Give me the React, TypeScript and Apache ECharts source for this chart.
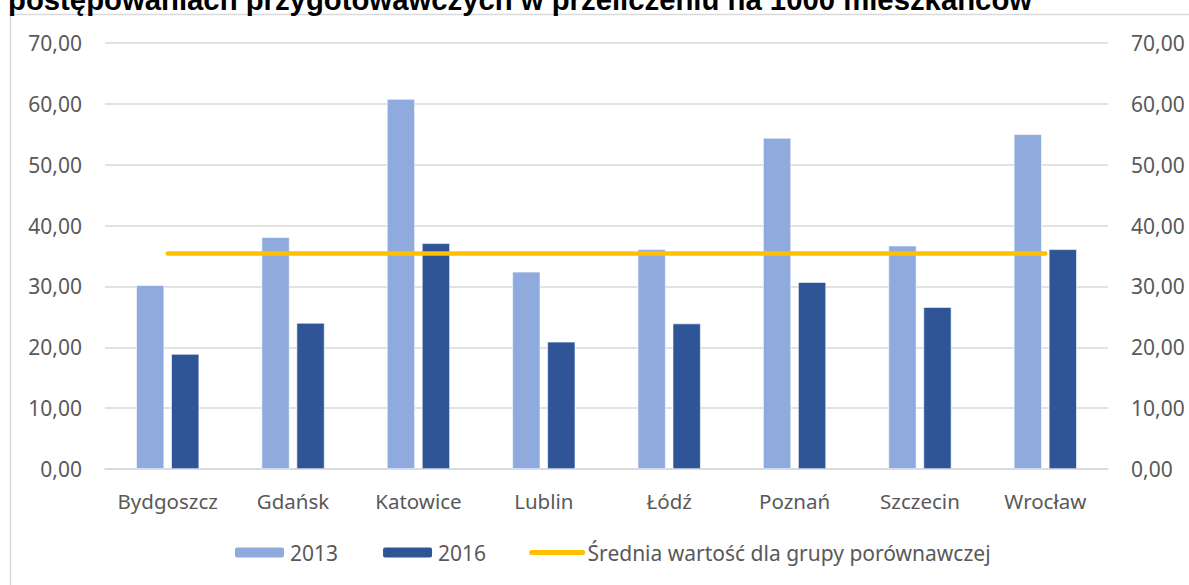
import React, { useEffect, useRef } from "react";
import * as echarts from "echarts";

const categories = ["Bydgoszcz", "Gdańsk", "Katowice", "Lublin", "Łódź", "Poznań", "Szczecin", "Wrocław"];
const values2013 = [30.2, 38.1, 60.8, 32.4, 36.1, 54.4, 36.7, 55.0];
const values2016 = [18.9, 24.0, 37.1, 20.9, 23.9, 30.7, 26.6, 36.1];
const averageValue = 35.4;
const averageLine = categories.map(() => averageValue);
const seriesNames = ["2013", "2016", "Średnia wartość dla grupy porównawczej"];
const titleText = "postępowaniach przygotowawczych w przeliczeniu na 1000 mieszkańców";

const FONT = "'Noto Sans', sans-serif";
const fmt = (v: number) => v.toFixed(2).replace(".", ",");

export default function App() {
  const ref = useRef<HTMLDivElement>(null);
  useEffect(() => {
    if (!ref.current) return;
    const chart = echarts.init(ref.current, undefined, { renderer: "svg" });
    const axisLabel = { color: "#595959", fontFamily: FONT, fontSize: 21, formatter: fmt, margin: 23 };
    chart.setOption({
      animation: false,
      backgroundColor: "#ffffff",
      graphic: [
        {
          type: "rect",
          shape: { x: 10.5, y: 14.5, width: 1300, height: 700 },
          style: { fill: "none", stroke: "#D9D9D9", lineWidth: 1.5 },
          silent: true,
          z: -10,
        },
        {
          type: "text",
          left: 8,
          top: -15,
          style: {
            text: titleText,
            font: "bold 29.3px 'Liberation Sans', Arial, sans-serif",
            fill: "#000000",
          },
          z: 10,
        },
      ],
      grid: { left: 105, right: 81, top: 43, bottom: 116, containLabel: false },
      legend: {
        bottom: 17,
        left: 228,
        itemWidth: 51,
        itemHeight: 12,
        itemGap: 43,
        textStyle: { color: "#595959", fontFamily: FONT, fontSize: 21, padding: [0, 0, 0, 0] },
        data: [
          { name: seriesNames[0] },
          { name: seriesNames[1] },
          {
            name: seriesNames[2],
            lineStyle: { width: 5, cap: "round", color: "#FFC000" },
            itemStyle: { color: "rgba(0,0,0,0)", borderWidth: 0, opacity: 0 },
          },
        ],
      },
      xAxis: {
        type: "category",
        data: categories,
        axisTick: { show: false },
        axisLine: { lineStyle: { color: "#D9D9D9", width: 1.5 } },
        axisLabel: { color: "#595959", fontFamily: FONT, fontSize: 20.5, margin: 21, interval: 0 },
      },
      yAxis: [
        {
          type: "value",
          min: 0,
          max: 70,
          interval: 10,
          axisLabel,
          splitLine: { lineStyle: { color: "#D9D9D9", width: 1.5 } },
          axisLine: { show: false },
          axisTick: { show: false },
        },
        {
          type: "value",
          min: 0,
          max: 70,
          interval: 10,
          position: "right",
          axisLabel,
          splitLine: { show: false },
          axisLine: { show: false },
          axisTick: { show: false },
        },
      ],
      series: [
        {
          name: seriesNames[0],
          type: "bar",
          data: values2013,
          barWidth: 28,
          barGap: "25%",
          itemStyle: { color: "#8FAADC", borderColor: "#ffffff", borderWidth: 0.6 },
        },
        {
          name: seriesNames[1],
          type: "bar",
          data: values2016,
          barWidth: 28,
          barGap: "25%",
          itemStyle: { color: "#2F5597", borderColor: "#ffffff", borderWidth: 0.6 },
        },
        {
          name: seriesNames[2],
          type: "line",
          data: averageLine,
          symbol: "none",
          lineStyle: { color: "#FFC000", width: 4.5, cap: "round" },
          itemStyle: { color: "#FFC000" },
          z: 5,
        },
      ],
    });
    return () => chart.dispose();
  }, []);
  return <div ref={ref} style={{ width: 1189, height: 585, position: "absolute", left: 0, top: 0 }} />;
}
